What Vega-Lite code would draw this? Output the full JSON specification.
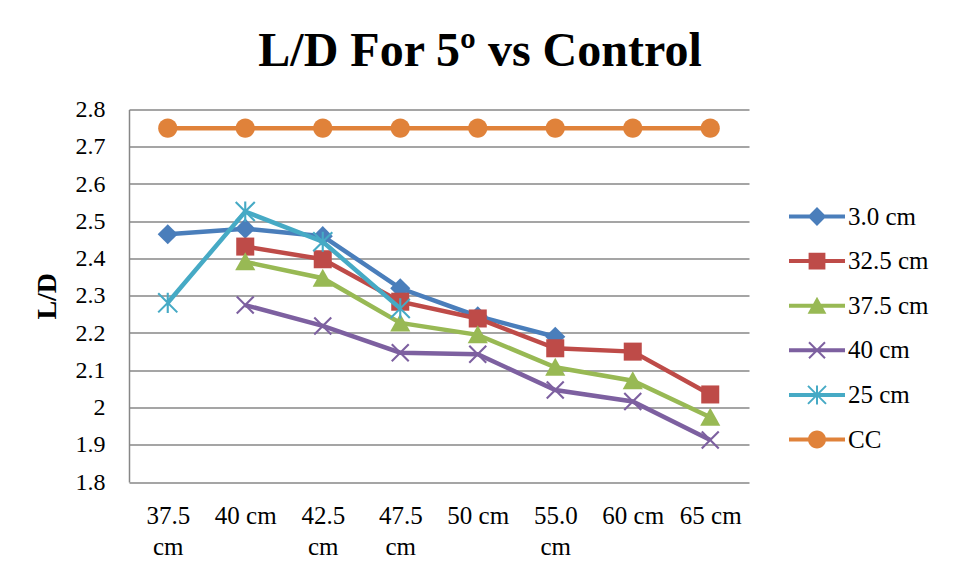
{
  "$schema": "https://vega.github.io/schema/vega-lite/v6.json",
  "width": 620,
  "height": 372.5,
  "autosize": {"type": "none"},
  "padding": {"left": 129, "top": 109.5, "right": 211, "bottom": 96},
  "background": "white",
  "config": {
    "font": "Liberation Serif",
    "view": {"stroke": null}
  },
  "title": {
    "text": "L/D For 5º vs Control",
    "fontSize": 48,
    "fontWeight": "bold",
    "font": "Liberation Serif",
    "color": "black",
    "anchor": "middle",
    "dx": 41,
    "dy": 38,
    "offset": 22,
    "baseline": "alphabetic"
  },
  "data": {
    "values": [
      {"series": "3.0 cm", "position": "37.5 cm", "ld": 2.465},
      {"series": "3.0 cm", "position": "40 cm", "ld": 2.48},
      {"series": "3.0 cm", "position": "42.5 cm", "ld": 2.46},
      {"series": "3.0 cm", "position": "47.5 cm", "ld": 2.32},
      {"series": "3.0 cm", "position": "50 cm", "ld": 2.245},
      {"series": "3.0 cm", "position": "55.0 cm", "ld": 2.19},
      {"series": "32.5 cm", "position": "40 cm", "ld": 2.432},
      {"series": "32.5 cm", "position": "42.5 cm", "ld": 2.398},
      {"series": "32.5 cm", "position": "47.5 cm", "ld": 2.284},
      {"series": "32.5 cm", "position": "50 cm", "ld": 2.239},
      {"series": "32.5 cm", "position": "55.0 cm", "ld": 2.159},
      {"series": "32.5 cm", "position": "60 cm", "ld": 2.15},
      {"series": "32.5 cm", "position": "65 cm", "ld": 2.035},
      {"series": "37.5 cm", "position": "40 cm", "ld": 2.391},
      {"series": "37.5 cm", "position": "42.5 cm", "ld": 2.347},
      {"series": "37.5 cm", "position": "47.5 cm", "ld": 2.227},
      {"series": "37.5 cm", "position": "50 cm", "ld": 2.195},
      {"series": "37.5 cm", "position": "55.0 cm", "ld": 2.108},
      {"series": "37.5 cm", "position": "60 cm", "ld": 2.072},
      {"series": "37.5 cm", "position": "65 cm", "ld": 1.974},
      {"series": "40 cm", "position": "40 cm", "ld": 2.275},
      {"series": "40 cm", "position": "42.5 cm", "ld": 2.219},
      {"series": "40 cm", "position": "47.5 cm", "ld": 2.147},
      {"series": "40 cm", "position": "50 cm", "ld": 2.143},
      {"series": "40 cm", "position": "55.0 cm", "ld": 2.047},
      {"series": "40 cm", "position": "60 cm", "ld": 2.016},
      {"series": "40 cm", "position": "65 cm", "ld": 1.913},
      {"series": "25 cm", "position": "37.5 cm", "ld": 2.281},
      {"series": "25 cm", "position": "40 cm", "ld": 2.526},
      {"series": "25 cm", "position": "42.5 cm", "ld": 2.445},
      {"series": "25 cm", "position": "47.5 cm", "ld": 2.266},
      {"series": "CC", "position": "37.5 cm", "ld": 2.75},
      {"series": "CC", "position": "40 cm", "ld": 2.75},
      {"series": "CC", "position": "42.5 cm", "ld": 2.75},
      {"series": "CC", "position": "47.5 cm", "ld": 2.75},
      {"series": "CC", "position": "50 cm", "ld": 2.75},
      {"series": "CC", "position": "55.0 cm", "ld": 2.75},
      {"series": "CC", "position": "60 cm", "ld": 2.75},
      {"series": "CC", "position": "65 cm", "ld": 2.75}
    ]
  },
  "encoding": {
    "x": {
      "field": "position",
      "type": "ordinal",
      "sort": ["37.5 cm", "40 cm", "42.5 cm", "47.5 cm", "50 cm", "55.0 cm", "60 cm", "65 cm"],
      "scale": {"type": "point", "padding": 0.5},
      "axis": {
        "title": null,
        "domain": false,
        "ticks": false,
        "tickSize": 0,
        "grid": false,
        "labelAngle": 0,
        "labelFont": "Liberation Serif",
        "labelFontSize": 25,
        "labelColor": "black",
        "labelBaseline": "top",
        "labelPadding": 21,
        "labelLineHeight": 31,
        "labelExpr": "length(datum.label) > 5 ? split(datum.label, ' ') : datum.label"
      }
    },
    "y": {
      "field": "ld",
      "type": "quantitative",
      "scale": {"domain": [1.8, 2.8], "nice": false, "zero": false},
      "axis": {
        "title": "L/D",
        "titleFont": "Liberation Serif",
        "titleFontSize": 28,
        "titleFontWeight": "bold",
        "titleColor": "black",
        "titlePadding": 14,
        "values": [1.8, 1.9, 2.0, 2.1, 2.2, 2.3, 2.4, 2.5, 2.6, 2.7, 2.8],
        "format": ".1~f",
        "domain": true,
        "domainColor": "#878787",
        "domainWidth": 1.5,
        "ticks": false,
        "tickSize": 0,
        "grid": true,
        "gridColor": "#878787",
        "gridWidth": 1.5,
        "labelFont": "Liberation Serif",
        "labelFontSize": 24,
        "labelColor": "black",
        "labelPadding": 24
      }
    },
    "color": {
      "field": "series",
      "type": "nominal",
      "scale": {
        "domain": ["3.0 cm", "32.5 cm", "37.5 cm", "40 cm", "25 cm", "CC"],
        "range": ["#4A7EBB", "#BE4B48", "#98B954", "#7D60A0", "#46AAC5", "#E0823A"]
      },
      "legend": {
        "title": null,
        "orient": "none",
        "legendX": 668,
        "legendY": 87,
        "padding": 0,
        "rowPadding": 11.6,
        "symbolSize": 1600,
        "symbolOpacity": 1,
        "symbolStrokeWidth": 0,
        "labelOffset": 11,
        "labelFont": "Liberation Serif",
        "labelFontSize": 25,
        "labelColor": "black",
        "labelLimit": 200
      }
    }
  },
  "layer": [
    {"transform": [{"filter": "datum.series === '3.0 cm'"}], "mark": {"type": "line", "strokeWidth": 4.5}},
    {"transform": [{"filter": "datum.series === '3.0 cm'"}], "mark": {"type": "point", "filled": true, "size": 450, "opacity": 1, "shape": "M0,-0.95L0.95,0L0,0.95L-0.95,0Z"}},
    {"transform": [{"filter": "datum.series === '32.5 cm'"}], "mark": {"type": "line", "strokeWidth": 4.5}},
    {"transform": [{"filter": "datum.series === '32.5 cm'"}], "mark": {"type": "point", "filled": true, "size": 450, "opacity": 1, "shape": "M-0.85,-0.85H0.85V0.85H-0.85Z"}},
    {"transform": [{"filter": "datum.series === '37.5 cm'"}], "mark": {"type": "line", "strokeWidth": 4.5}},
    {"transform": [{"filter": "datum.series === '37.5 cm'"}], "mark": {"type": "point", "filled": true, "size": 450, "opacity": 1, "shape": "M0,-0.9L0.95,0.8H-0.95Z"}},
    {"transform": [{"filter": "datum.series === '40 cm'"}], "mark": {"type": "line", "strokeWidth": 4.5}},
    {"transform": [{"filter": "datum.series === '40 cm'"}], "mark": {"type": "point", "filled": true, "size": 450, "opacity": 1, "shape": "M-0.73,-0.87L0.87,0.73L0.73,0.87L-0.87,-0.73ZM-0.73,0.87L-0.87,0.73L0.73,-0.87L0.87,-0.73Z"}},
    {"transform": [{"filter": "datum.series === '25 cm'"}], "mark": {"type": "line", "strokeWidth": 4.5}},
    {"transform": [{"filter": "datum.series === '25 cm'"}], "mark": {"type": "point", "filled": true, "size": 450, "opacity": 1, "shape": "M-0.83,-0.97L0.97,0.83L0.83,0.97L-0.97,-0.83ZM-0.83,0.97L-0.97,0.83L0.83,-0.97L0.97,-0.83ZM-0.1,-0.95L0.1,-0.95L0.1,0.95L-0.1,0.95Z"}},
    {"transform": [{"filter": "datum.series === 'CC'"}], "mark": {"type": "line", "strokeWidth": 4.5}},
    {"transform": [{"filter": "datum.series === 'CC'"}], "mark": {"type": "point", "filled": true, "size": 450, "opacity": 1, "shape": "M-0.9,0A0.9,0.9 0 1,1 0.9,0A0.9,0.9 0 1,1 -0.9,0Z"}},
    {
      "mark": {"type": "point", "filled": true, "size": 400, "opacity": 0},
      "encoding": {
        "shape": {
          "field": "series",
          "type": "nominal",
          "scale": {
            "domain": ["3.0 cm", "32.5 cm", "37.5 cm", "40 cm", "25 cm", "CC"],
            "range": [
              "M-1.4,-0.1H1.4V0.1H-1.4ZM0,-0.47L0.47,0L0,0.47L-0.47,0Z",
              "M-1.4,-0.1H1.4V0.1H-1.4ZM-0.42,-0.42H0.42V0.42H-0.42Z",
              "M-1.4,-0.1H1.4V0.1H-1.4ZM0,-0.45L0.47,0.4H-0.47Z",
              "M-1.4,-0.1H1.4V0.1H-1.4ZM-0.365,-0.435L0.435,0.365L0.365,0.435L-0.435,-0.365ZM-0.365,0.435L-0.435,0.365L0.365,-0.435L0.435,-0.365Z",
              "M-1.4,-0.1H1.4V0.1H-1.4ZM-0.415,-0.485L0.485,0.415L0.415,0.485L-0.485,-0.415ZM-0.415,0.485L-0.485,0.415L0.415,-0.485L0.485,-0.415ZM-0.05,-0.475L0.05,-0.475L0.05,0.475L-0.05,0.475Z",
              "M-1.4,-0.1H1.4V0.1H-1.4ZM-0.45,0A0.45,0.45 0 1,1 0.45,0A0.45,0.45 0 1,1 -0.45,0Z"
            ]
          },
          "legend": {
            "title": null,
            "orient": "none",
            "legendX": 668,
            "legendY": 87,
            "padding": 0,
            "rowPadding": 11.6,
            "symbolSize": 1600,
            "symbolOpacity": 1,
            "symbolStrokeWidth": 0,
            "labelOffset": 11,
            "labelFont": "Liberation Serif",
            "labelFontSize": 25,
            "labelColor": "black",
            "labelLimit": 200
          }
        }
      }
    }
  ]
}
